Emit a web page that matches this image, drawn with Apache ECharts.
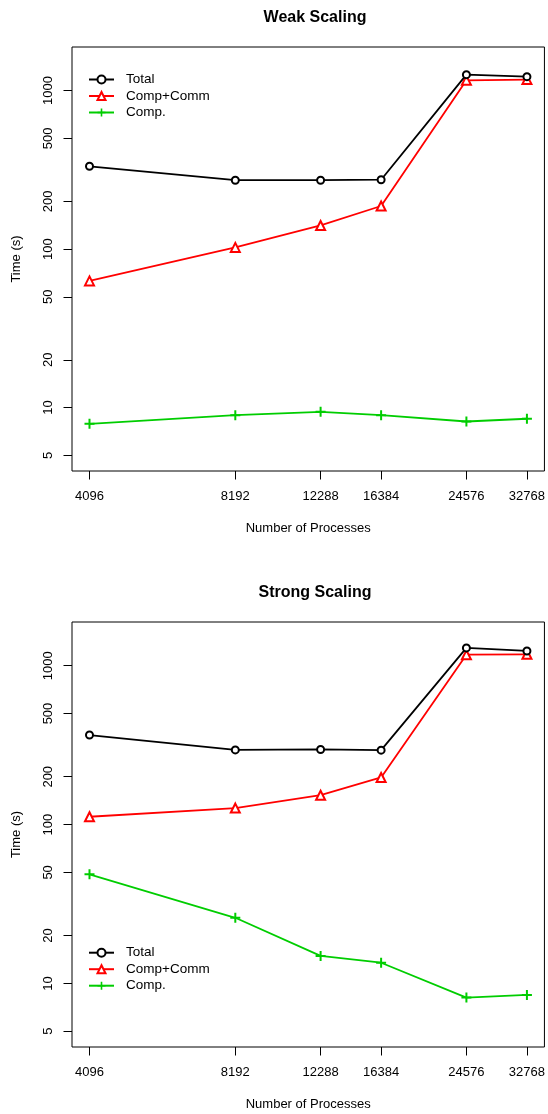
<!DOCTYPE html>
<html><head><meta charset="utf-8">
<script src="https://cdn.jsdelivr.net/npm/echarts@6/dist/echarts.min.js"></script>
<style>html,body{margin:0;padding:0;background:#fff}#c{width:548px;height:1114px}</style>
</head><body><div id="c"></div>
<script>
const processes = [4096, 8192, 12288, 16384, 24576, 32768];
const weakTotal = [333, 272, 272, 274, 1261, 1225];
const weakCompComm = [63, 102.5, 141, 187, 1161, 1173];
const weakComp = [7.9, 8.95, 9.4, 8.95, 8.17, 8.5];
const strongTotal = [366, 295, 297, 294, 1294, 1238];
const strongCompComm = [112, 127, 153, 198, 1173, 1180];
const strongComp = [48.6, 25.9, 14.9, 13.5, 8.15, 8.47];
const yTicks = [5, 10, 20, 50, 100, 200, 500, 1000];
const xTicks = [4096, 8192, 12288, 16384, 24576, 32768];
const titles = ['Weak Scaling', 'Strong Scaling'];
const seriesNames = ['Total', 'Comp+Comm', 'Comp.'];
const xName = 'Number of Processes';
const yName = 'Time (s)';

const FONT = 'Liberation Sans, Arial, Helvetica, sans-serif';
const colors = ['#000000', '#FF0000', '#00CD00'];
const symbols = ['emptyCircle', 'emptyTriangle', 'path://M4,0H6V4H10V6H6V10H4V6H0V4H4Z'];
const symSizes = [7, 9, 10];
const panels = [[weakTotal, weakCompComm, weakComp], [strongTotal, strongCompComm, strongComp]];
const gridTops = [47, 622];
const gridH = [424, 425];
const legendTops = [72.5, 945.7];

const grid = [], xAxis = [], yAxis = [], series = [], title = [], legend = [];
panels.forEach((p, gi) => {
  grid.push({left: 72, width: 475, top: gridTops[gi], height: gridH[gi], show: true,
    borderColor: '#000', borderWidth: 1, backgroundColor: 'transparent', containLabel: false});
  title.push({text: titles[gi], left: 310, textAlign: 'center', top: gridTops[gi] - 42,
    textStyle: {fontFamily: FONT, fontWeight: 'bold', fontSize: 16, color: '#000'}});
  xAxis.push({type: 'log', logBase: 2, gridIndex: gi, min: Math.pow(2, 11.88), max: Math.pow(2, 15.12),
    name: xName, nameLocation: 'middle', nameGap: 51,
    nameTextStyle: {fontFamily: FONT, fontSize: 13, color: '#000'},
    axisLine: {show: false}, splitLine: {show: false}, minorTick: {show: false},
    axisTick: {show: true, inside: false, length: 8.5, customValues: xTicks, lineStyle: {color: '#000', width: 1}},
    axisLabel: {customValues: xTicks, fontFamily: FONT, fontSize: 13, color: '#000', margin: 19,
      formatter: v => String(Math.round(v))}});
  yAxis.push({type: 'log', logBase: 10, gridIndex: gi, min: 3.98, max: 1884,
    name: yName, nameLocation: 'middle', nameGap: 49,
    nameTextStyle: {fontFamily: FONT, fontSize: 13, color: '#000'},
    axisLine: {show: false}, splitLine: {show: false}, minorTick: {show: false},
    axisTick: {show: true, inside: false, length: 8.5, customValues: yTicks, lineStyle: {color: '#000', width: 1}},
    axisLabel: {customValues: yTicks, rotate: 90, fontFamily: FONT, fontSize: 13, color: '#000', margin: 17,
      formatter: v => String(Math.round(v))}});
  p.forEach((vals, si) => {
    series.push({type: 'line', name: seriesNames[si], xAxisIndex: gi, yAxisIndex: gi,
      data: processes.map((x, i) => [x, vals[i]]),
      symbol: symbols[si], symbolSize: symSizes[si], showAllSymbol: true,
      lineStyle: {color: colors[si], width: 1.8},
      itemStyle: {color: colors[si], borderColor: colors[si], borderWidth: si === 2 ? 0 : 1.5},
      emphasis: {disabled: true}, z: 3 - si});
  });
  legend.push({orient: 'vertical', left: 88, top: legendTops[gi], itemWidth: 25, itemHeight: 10, itemGap: 2.5, padding: 0,
    data: seriesNames, selectedMode: false,
    textStyle: {fontFamily: FONT, fontSize: 13.5, lineHeight: 14, color: '#000', padding: [0, 0, 0, 7]}});
});

const chart = echarts.init(document.getElementById('c'), null, {renderer: 'canvas'});
chart.setOption({animation: false, backgroundColor: '#fff', title, legend, grid, xAxis, yAxis, series});
</script></body></html>
